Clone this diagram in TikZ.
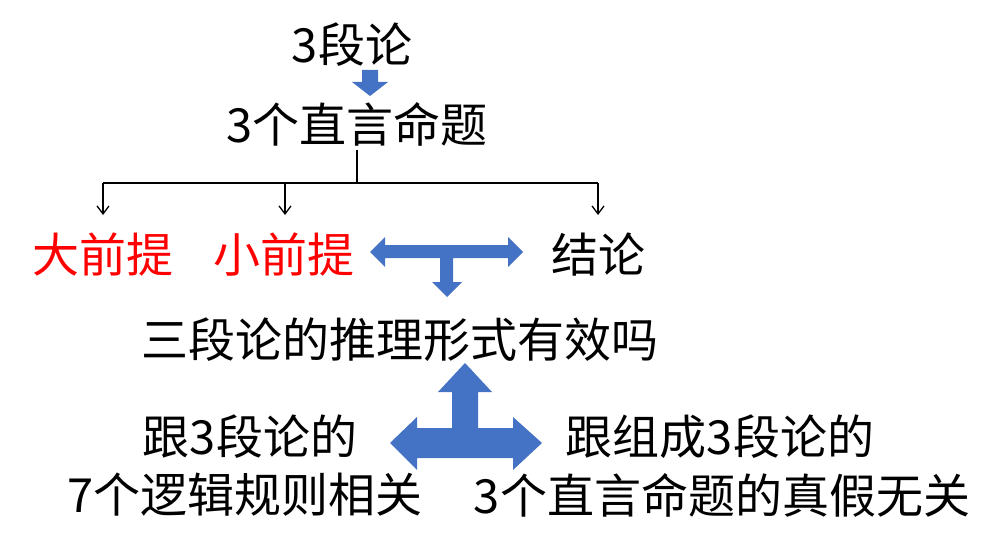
\documentclass[tikz,border=0pt]{standalone}
\usepackage{fontspec}
\setmainfont{Noto Sans CJK SC}
\usetikzlibrary{arrows.meta}
\begin{document}
\begin{tikzpicture}[x=1pt,y=-1pt,
  t/.style={font=\fontsize{47}{50}\selectfont,inner sep=0pt,anchor=center},
  blk/.style={fill={rgb,255:red,68;green,114;blue,196}},
  ln/.style={draw=black,line width=1.3pt,-{Straight Barb[length=8pt,width=12pt]}}]
\useasboundingbox (0,0) rectangle (1002,551);
\node[t] (a) at (352,45) {3段论};
\node[t] (b) at (357,124) {3个直言命题};
\node[t,text=red] (c1) at (103,255) {大前提};
\node[t,text=red] (c2) at (284,255) {小前提};
\node[t] (c3) at (598,255) {结论};
\node[t] (d) at (400,340) {三段论的推理形式有效吗};
\node[t] (e1) at (250,437) {跟3段论的};
\node[t] (e2) at (245,495) {7个逻辑规则相关};
\node[t] (f1) at (720,437) {跟组成3段论的};
\node[t] (f2) at (722,495) {3个直言命题的真假无关};
% top arrow
\fill[blk] (362,70)--(378,70)--(378,82)--(388,82)--(370,96)--(352,82)--(362,82)--cycle;
% tree
\coordinate (j) at (357,183);
\draw[line width=1.3pt] (357,150)--(j);
\draw[line width=1.3pt] (103,183)--(598,183);
\draw[ln] (103,183)--(103,215);
\draw[ln] (285,183)--(285,215);
\draw[ln] (598,183)--(598,215);
% T arrow
\fill[blk] (370,252)--(385,237)--(385,245)--(508,245)--(508,237)--(523,252)--(508,267)--(508,258)
  --(453,258)--(453,282)--(462,282)--(447,297)--(432,282)--(440,282)--(440,258)--(385,258)--(385,267)--cycle;
% inverted T arrow
\fill[blk] (465,363)--(492,392)--(478,392)--(478,428)--(513,428)--(513,417)--(542,443)--(513,470)--(513,458)
  --(417,458)--(417,470)--(390,443)--(417,417)--(417,428)--(452,428)--(452,392)--(438,392)--cycle;
\end{tikzpicture}
\end{document}
